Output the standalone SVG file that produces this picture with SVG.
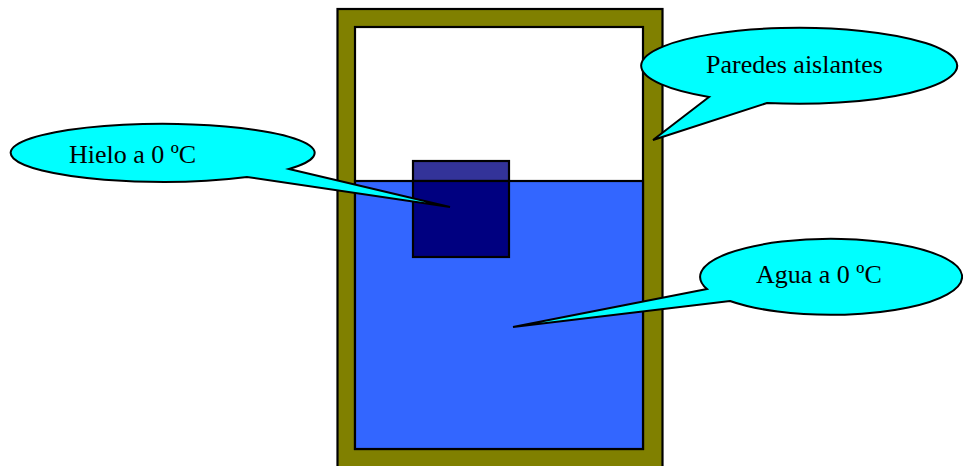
<svg xmlns="http://www.w3.org/2000/svg" width="963" height="466" viewBox="0 0 963 466">
<style>
.out{stroke:#000;stroke-width:2.2}
.bubble{fill:#00FFFF;stroke:#000;stroke-width:2;stroke-linejoin:miter}
.lbl{font-family:"Liberation Serif","Times New Roman",serif;font-size:26px;fill:#000}
</style>
<rect width="963" height="466" fill="#fff"/>
<g id="container">
<rect class="out" x="337.5" y="9" width="325" height="470" fill="#808000"/>
<rect class="out" x="355" y="27" width="288" height="422" fill="#fff"/>
</g>
<g id="water">
<rect class="out" x="355" y="181" width="288" height="268" fill="#3366FF"/>
</g>
<g id="ice">
<rect class="out" x="413" y="161" width="96" height="20" fill="#333399"/>
<rect class="out" x="413" y="181" width="96" height="76" fill="#000080"/>
</g>
<g id="connectors"></g>
<g id="hielo">
<path class="bubble" d="M289,169 L450,207 L247,177 A152 29 0 1 1 289,169 Z"/>
<text class="lbl" x="69" y="163">Hielo a 0 ºC</text>
</g>
<g id="paredes">
<path class="bubble" d="M709,97 L653,140 L767,103 A158 38 0 1 0 709,97 Z"/>
<text class="lbl" x="706" y="73">Paredes aislantes</text>
</g>
<g id="agua">
<path class="bubble" d="M707,289 L513,327 L730,301 A131 38 0 1 0 707,289 Z"/>
<text class="lbl" x="756" y="283">Agua a 0 ºC</text>
</g>
</svg>
